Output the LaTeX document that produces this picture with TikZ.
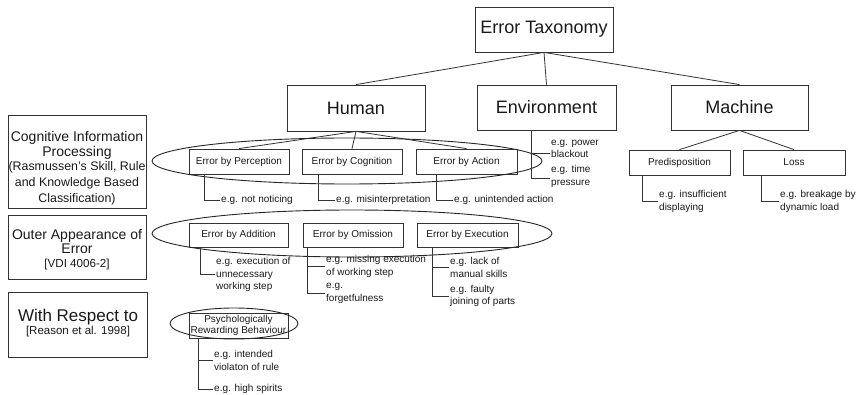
\documentclass[tikz,border=0pt]{standalone}
\usepackage{fontspec}
\setmainfont{Liberation Sans}
\begin{document}
\begin{tikzpicture}[x=1pt,y=-1pt,
  box/.style={draw=black!80, line width=0.8pt, inner sep=0pt, align=center, text=black!90},
  bigtxt/.style={font=\fontsize{18}{20}\selectfont},
  smalltxt/.style={font=\fontsize{10}{11}\selectfont},
  mainbox/.style={box, bigtxt, minimum height=45pt},
  subbox/.style={box, smalltxt, minimum width=100pt, minimum height=25pt},
  note/.style={font=\fontsize{10}{12.5}\selectfont, align=left, anchor=west, inner sep=1pt, text=black!90},
  conn/.style={draw=black!80, line width=0.8pt},
  ring/.style={draw=black!85, line width=0.9pt},
  sideline/.style={anchor=base, inner sep=0pt, text=black!90},
  sidebig/.style={sideline, font=\fontsize{14}{15}\selectfont},
  sidemid/.style={sideline, font=\fontsize{12.4}{14}\selectfont},
  sidesmall/.style={sideline, font=\fontsize{11.6}{13}\selectfont}
]
\useasboundingbox (0,0) rectangle (856,395);

% main tree
\node[mainbox, minimum width=138pt] (tax) at (544,29.5) {Error Taxonomy};
\node[mainbox, minimum width=138pt, minimum height=46pt] (human) at (356,108) {Human};
\node[mainbox, minimum width=139pt] (env) at (546.5,107.5) {Environment};
\node[mainbox, minimum width=137pt] (mach) at (739.5,107.5) {Machine};

\draw[conn] (tax.south) -- (human.north);
\draw[conn] (tax.south) -- (env.north);
\draw[conn] (tax.south) -- (mach.north);

% human sub boxes
\node[subbox] (perc) at (239,161.5) {Error by Perception};
\node[subbox] (cogn) at (352,161.5) {Error by Cognition};
\node[subbox, minimum width=101pt] (act) at (466.5,161.5) {Error by Action};

\draw[conn] (human.south) -- (perc.north);
\draw[conn] (human.south) -- (cogn.north);
\draw[conn] (human.south) -- (act.north);

\node[subbox, minimum width=99pt, minimum height=24pt] (add) at (238.5,235) {Error by Addition};
\node[subbox, minimum height=24pt] (omi) at (353,235) {Error by Omission};
\node[subbox, minimum width=101pt, minimum height=24pt] (exe) at (467.5,235) {Error by Execution};

\node[subbox, minimum width=99pt] (psy) at (238.5,325.5) {Psychologically\\Rewarding Behaviour};

% machine sub boxes
\node[subbox, minimum width=101pt] (pred) at (679.5,162.5) {Predisposition};
\node[subbox, minimum width=102pt] (loss) at (794,162.5) {Loss};
\draw[conn] (mach.south) -- (pred.north);
\draw[conn] (mach.south) -- (loss.north);

% ellipses
\draw[ring] (347,161) ellipse [x radius=195, y radius=23];
\draw[ring] (352,233.5) ellipse [x radius=200, y radius=23.5];
\draw[ring] (234,323.5) ellipse [x radius=64, y radius=15.5];

% notes: cognitive row
\node[note] (n1) at (220,200) {e.g. not noticing};
\node[note] (n2) at (335,200) {e.g. misinterpretation};
\node[note] (n3) at (453,200) {e.g. unintended action};
\draw[conn] ([xshift=16pt]perc.south west) |- (n1.west);
\draw[conn] ([xshift=17pt]cogn.south west) |- (n2.west);
\draw[conn] ([xshift=21pt]act.south west) |- (n3.west);

% notes: outer appearance row
\node[note] (n4) at (215,274.5) {e.g. execution of\\unnecessary\\working step};
\node[note] (n5) at (325,266.5) {e.g. missing execution\\of working step};
\node[note] (n6) at (325,293.5) {e.g.\\forgetfulness};
\node[note] (n7) at (449,267.5) {e.g. lack of\\manual skills};
\node[note] (n8) at (449,296) {e.g. faulty\\joining of parts};
\draw[conn] ([xshift=12pt]add.south west) |- (n4.west);
\draw[conn] ([xshift=5pt]omi.south west) |- (n5.west);
\draw[conn] ([xshift=5pt]omi.south west) |- (n6.west);
\draw[conn] ([xshift=16pt]exe.south west) |- (n7.west);
\draw[conn] ([xshift=16pt]exe.south west) |- (n8.west);

% notes: psychological
\node[note] (n9) at (213,360.5) {e.g. intended\\violaton of rule};
\node[note] (n10) at (213,389) {e.g. high spirits};
\draw[conn] ([xshift=10pt]psy.south west) |- (n9.west);
\draw[conn] ([xshift=10pt]psy.south west) |- (n10.west);

% notes: environment
\node[note] (n11) at (550,149) {e.g. power\\blackout};
\node[note] (n12) at (550,176.5) {e.g. time\\pressure};
\draw[conn] ([xshift=55pt]env.south west) |- ([yshift=-4pt]n11.west);
\draw[conn] ([xshift=55pt]env.south west) |- ([yshift=-1.5pt]n12.west);

% notes: machine
\node[note] (n13) at (658,201.5) {e.g. insufficient\\displaying};
\node[note] (n14) at (779,201.5) {e.g. breakage by\\dynamic load};
\draw[conn] ([xshift=14pt]pred.south west) |- (n13.west);
\draw[conn] ([xshift=19pt]loss.south west) |- (n14.west);

% left classification boxes
\node[box, minimum width=138pt, minimum height=93pt] (c1) at (77,161.5) {};
\node[sidebig] (c1a) at (77,142) {Cognitive Information};
\node[sidebig] (c1b) at (77,157) {Processing};
\node[sidemid] (c1c) at (77,171) {(Rasmussen's Skill, Rule};
\node[sidemid] (c1d) at (77,187) {and Knowledge Based};
\node[sidemid] (c1e) at (77,202.5) {Classification)};

\node[box, minimum width=138pt, minimum height=64pt] (c2) at (77,247) {};
\node[sidebig] (c2a) at (77,240) {Outer Appearance of};
\node[sidebig] (c2b) at (77,254) {Error};
\node[sidesmall] (c2c) at (77,267) {[VDI 4006-2]};

\node[box, minimum width=139pt, minimum height=65pt] (c3) at (78,324.5) {};
\node[sideline, font=\fontsize{17}{18}\selectfont] (c3a) at (78,321) {With Respect to};
\node[sideline, font=\fontsize{11.5}{13}\selectfont] (c3b) at (78,334) {[Reason et al. 1998]};
\end{tikzpicture}
\end{document}
